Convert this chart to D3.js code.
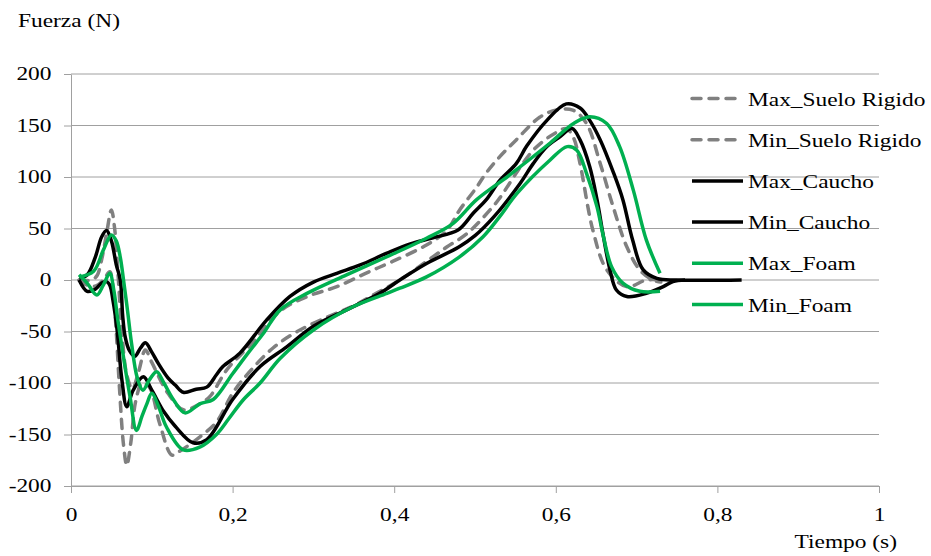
<!DOCTYPE html>
<html>
<head>
<meta charset="utf-8">
<script src="https://cdn.jsdelivr.net/npm/d3@7"></script>
<style>
    body { margin: 0; background: #fff; }
    svg text { font-family: "Liberation Serif", "Times New Roman", serif; font-size: 18px; fill: #000; }
</style>
</head>
<body>
<div id="chart"></div>
<script>
// [tiempo (s), fuerza (N)]
const maxSuelo = [[0.01,0],[0.025,0],[0.032,4],[0.038,20],[0.044,45],[0.05,68],[0.054,50],[0.058,8],[0.063,-50],[0.069,-92],[0.076,-106],[0.084,-88],[0.092,-68],[0.1,-80],[0.12,-110],[0.139,-126],[0.16,-120],[0.172,-113],[0.193,-87],[0.222,-63],[0.259,-30],[0.296,-15],[0.329,-6.5],[0.366,7],[0.398,18],[0.44,34],[0.465,48],[0.481,68],[0.502,90],[0.513,103],[0.531,120],[0.551,136],[0.58,158],[0.601,165],[0.621,165],[0.638,152],[0.655,113],[0.671,71],[0.688,32],[0.704,9.7],[0.72,0],[0.73,-2]];
const minSuelo = [[0.01,0],[0.02,-5],[0.03,-6],[0.04,0],[0.048,8],[0.052,-8],[0.056,-50],[0.06,-105],[0.065,-160],[0.069,-180],[0.074,-158],[0.08,-118],[0.088,-100],[0.097,-104],[0.11,-140],[0.125,-170],[0.135,-166],[0.16,-152],[0.18,-138],[0.2,-110],[0.22,-90],[0.25,-66],[0.28,-50],[0.32,-35],[0.35,-25],[0.38,-12],[0.407,0],[0.44,18],[0.465,32],[0.49,45],[0.522,71],[0.531,80],[0.572,126],[0.6,143],[0.613,147],[0.622,138],[0.63,113],[0.646,48],[0.663,10],[0.688,-6.5],[0.712,0],[0.73,0]];
const maxCaucho = [[0.01,2],[0.02,5],[0.03,22],[0.038,42],[0.044,48],[0.05,38],[0.056,15],[0.061,0],[0.064,-35],[0.067,-55],[0.072,-68],[0.079,-74],[0.086,-66],[0.092,-61],[0.1,-70],[0.108,-81],[0.12,-95],[0.129,-102],[0.139,-109],[0.155,-106],[0.168,-104],[0.18,-92],[0.188,-84],[0.209,-71],[0.242,-39],[0.271,-16],[0.3,-2],[0.329,6.5],[0.358,14.6],[0.391,26],[0.42,35],[0.448,41],[0.479,48.5],[0.498,65],[0.514,78],[0.531,97],[0.551,113],[0.564,130],[0.589,155],[0.613,171],[0.63,167],[0.642,155],[0.655,136],[0.671,105],[0.683,78],[0.695,39],[0.708,10],[0.725,1.5],[0.75,0],[0.83,0]];
const minCaucho = [[0.01,0],[0.02,-11],[0.03,-9],[0.038,-3],[0.044,-1.6],[0.048,-5],[0.052,-20],[0.057,-48],[0.063,-97],[0.069,-123],[0.077,-107],[0.0895,-94],[0.1,-107],[0.115,-128],[0.129,-142],[0.151,-158],[0.168,-155],[0.2,-116],[0.234,-84],[0.267,-65],[0.3,-45],[0.341,-29],[0.382,-13],[0.407,0],[0.44,16],[0.48,32],[0.5,43],[0.523,61],[0.556,94],[0.572,113],[0.589,129.5],[0.605,139],[0.62,147],[0.63,136],[0.642,110],[0.651,78],[0.659,42],[0.667,10],[0.675,-9.7],[0.688,-16],[0.712,-13],[0.733,-6.5],[0.745,-1.6],[0.76,0]];
const maxFoam = [[0.01,3],[0.028,8.5],[0.04,29],[0.05,43.7],[0.056,38],[0.061,22],[0.065,0],[0.07,-30],[0.075,-62],[0.082,-95],[0.089,-107],[0.097,-97],[0.106,-89],[0.115,-100],[0.127,-116.5],[0.141,-129],[0.16,-120],[0.176,-116],[0.2,-91],[0.22,-70],[0.238,-52],[0.259,-29],[0.292,-13],[0.341,5],[0.391,22.6],[0.44,40.5],[0.473,55],[0.502,78],[0.543,102],[0.593,133],[0.622,152],[0.642,158.6],[0.663,152],[0.679,129.5],[0.696,87],[0.712,39],[0.729,6.5]];
const minFoam = [[0.01,5],[0.02,-3],[0.032,-14.6],[0.04,-5],[0.048,6.5],[0.053,-10],[0.058,-39],[0.066,-80],[0.073,-113],[0.081,-146],[0.088,-132],[0.094,-120],[0.1,-110],[0.108,-122],[0.118,-142.5],[0.139,-165],[0.16,-162],[0.18,-150],[0.195,-135],[0.213,-116.5],[0.234,-100],[0.259,-76],[0.3,-48.5],[0.349,-26],[0.391,-13],[0.407,-8],[0.44,3],[0.48,22],[0.51,42],[0.531,62],[0.552,84],[0.593,116.5],[0.614,129.5],[0.626,126],[0.638,103.6],[0.651,71],[0.659,42],[0.669,13],[0.683,-3],[0.704,-11],[0.729,-11]];

const seriesNames = ["Max_Suelo Rigido", "Min_Suelo Rigido", "Max_Caucho", "Min_Caucho", "Max_Foam", "Min_Foam"];
const seriesData = [maxSuelo, minSuelo, maxCaucho, minCaucho, maxFoam, minFoam];
const colors = ["#808080", "#808080", "#000000", "#000000", "#00b050", "#00b050"];
const dashes = ["9,8", "9,8", null, null, null, null];
const yTicks = [-200, -150, -100, -50, 0, 50, 100, 150, 200];
const xTicks = [0, 0.2, 0.4, 0.6, 0.8, 1];

(function () {
    var W = 931, H = 556;
    var mLeft = 71, mRight = 879, mTop = 74, mBottom = 486;
    var sx = 1.3; // text in the picture is stretched wide

    var svg = d3.select("#chart").append("svg")
        .attr("width", W)
        .attr("height", H);

    var x = d3.scaleLinear().domain([0, 1]).range([mLeft, mRight]);
    var y = d3.scaleLinear().domain([-200, 200]).range([mBottom, mTop]);

    // grid
    svg.append("g")
        .selectAll("line")
        .data(yTicks)
        .enter().append("line")
        .attr("x1", mLeft).attr("x2", mRight)
        .attr("y1", d => y(d)).attr("y2", d => y(d))
        .attr("stroke", "#a0a0a0")
        .attr("stroke-width", 1);

    // axes
    var yAxis = d3.axisLeft(y).tickValues(yTicks).tickSize(7).tickSizeOuter(0)
        .tickFormat(d => String(d));
    var yg = svg.append("g").attr("transform", `translate(${mLeft},0)`).call(yAxis);
    yg.select(".domain").attr("stroke", "#a0a0a0");
    yg.selectAll(".tick line").attr("stroke", "#a0a0a0");
    yg.selectAll(".tick text")
        .attr("x", -19.5 / sx)
        .attr("transform", `scale(${sx},1)`)
        .style("font-size", "18px").style("font-family", "Liberation Serif");

    var xAxis = d3.axisBottom(x).tickValues(xTicks).tickSize(7).tickSizeOuter(0)
        .tickFormat(d => String(d).replace(".", ","));
    var xg = svg.append("g").attr("transform", `translate(0,${mBottom})`).call(xAxis);
    xg.select(".domain").attr("stroke", "#a0a0a0");
    xg.selectAll(".tick line").attr("stroke", "#a0a0a0");
    xg.selectAll(".tick text")
        .attr("y", 35).attr("dy", 0)
        .attr("transform", `scale(${sx},1)`)
        .style("font-size", "18px").style("font-family", "Liberation Serif");

    function stretchText(str, px, py, anchor) {
        svg.append("text")
            .attr("transform", `translate(${px},${py}) scale(${sx},1)`)
            .attr("text-anchor", anchor)
            .text(str);
    }
    stretchText("Fuerza (N)", 18, 27, "start");
    stretchText("Tiempo (s)", 897, 548, "end");

    // curves
    var line = d3.line()
        .x(d => x(d[0]))
        .y(d => y(d[1]))
        .curve(d3.curveCatmullRom.alpha(0.5));

    svg.append("g")
        .selectAll("path")
        .data(seriesData)
        .enter().append("path")
        .attr("d", d => line(d))
        .attr("fill", "none")
        .attr("stroke", (d, i) => colors[i])
        .attr("stroke-width", 3.5)
        .attr("stroke-linejoin", "round")
        .attr("stroke-linecap", (d, i) => dashes[i] ? "round" : "butt")
        .attr("stroke-dasharray", (d, i) => dashes[i]);

    // legend
    var lg = svg.append("g")
        .selectAll("g")
        .data(seriesNames)
        .enter().append("g")
        .attr("transform", (d, i) => `translate(0,${98.5 + i * 41.2})`);
    lg.append("line")
        .attr("x1", 692).attr("x2", 743)
        .attr("stroke", (d, i) => colors[i])
        .attr("stroke-width", 3.5)
        .attr("stroke-linecap", (d, i) => dashes[i] ? "round" : "butt")
        .attr("stroke-dasharray", (d, i) => dashes[i]);
    lg.append("text")
        .attr("transform", `translate(748,7) scale(${sx},1)`)
        .text(d => d);
})();
</script>
</body>
</html>
